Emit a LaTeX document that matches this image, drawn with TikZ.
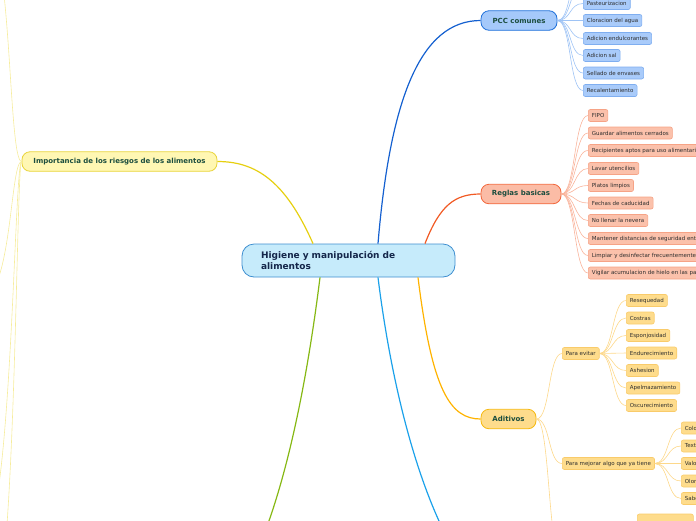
\documentclass[tikz,border=0pt]{standalone}
\usepackage{fontspec}
\setmainfont{DejaVu Sans}
\usetikzlibrary{calc}
\definecolor{mainfill}{HTML}{C6EBFB}
\definecolor{maindraw}{HTML}{3E8ED0}
\definecolor{maintext}{HTML}{14264A}
\definecolor{titletext}{HTML}{1B4D3E}
\definecolor{leaftext}{HTML}{2E2E2E}
\definecolor{pccfill}{HTML}{A5C9FA}
\definecolor{pccdraw}{HTML}{1E6FD9}
\definecolor{pccleaf}{HTML}{A9CBFA}
\definecolor{pccleafdraw}{HTML}{7FAEF0}
\definecolor{pccline}{HTML}{9EC3F5}
\definecolor{pccedge}{HTML}{1460D0}
\definecolor{regfill}{HTML}{FBBCA6}
\definecolor{regdraw}{HTML}{F2673C}
\definecolor{regleaf}{HTML}{FBC1AB}
\definecolor{regleafdraw}{HTML}{F6A386}
\definecolor{regline}{HTML}{F9B49C}
\definecolor{regedge}{HTML}{F15A24}
\definecolor{adifill}{HTML}{FEDC8C}
\definecolor{adidraw}{HTML}{F6B911}
\definecolor{adileafdraw}{HTML}{F9CB6A}
\definecolor{adiline}{HTML}{FDD88A}
\definecolor{adiedge}{HTML}{FFB300}
\definecolor{impfill}{HTML}{FFF7B3}
\definecolor{impdraw}{HTML}{E9D43B}
\definecolor{impline}{HTML}{F6EC9C}
\definecolor{impedge}{HTML}{E6CF10}
\definecolor{greenedge}{HTML}{86B814}
\definecolor{skyedge}{HTML}{1BA1EA}
\begin{document}
\begin{tikzpicture}[x=1pt,y=-1pt,
  branch/.style={draw, rounded corners=8pt, line width=0.8pt, minimum height=19.5pt,
    inner sep=0pt, font=\fontsize{7}{8}\selectfont\bfseries, text=titletext},
  leaf/.style={draw, rounded corners=2pt, anchor=west, minimum height=12pt,
    inner xsep=3.6pt, inner ysep=0pt, font=\fontsize{5.5}{6}\selectfont, text=leaftext, line width=0.6pt},
  pccleafs/.style={leaf, fill=pccleaf, draw=pccleafdraw},
  regleafs/.style={leaf, fill=regleaf, draw=regleafdraw},
  adileafs/.style={leaf, fill=adifill, draw=adileafdraw},
  mainedge/.style={line width=1.2pt},
  sub/.style={line width=0.6pt},
]
\useasboundingbox (0,0) rectangle (696,520);
\clip (0,0) rectangle (696,520);

% central node
\node[draw=maindraw, fill=mainfill, rounded corners=12pt, line width=0.8pt,
  minimum width=213pt, minimum height=33pt, inner sep=0pt, text width=175pt, align=left,
  font=\fontsize{9}{10.8}\selectfont\bfseries, text=maintext] (main) at (348.5,260.5)
  {Higiene y manipulación de\\alimentos};

% branches
\node[branch, fill=pccfill, draw=pccdraw, minimum width=76pt] (pcc) at (519,20.5) {PCC comunes};
\node[branch, fill=regfill, draw=regdraw, minimum width=80pt] (reg) at (521,194) {Reglas basicas};
\node[branch, fill=adifill, draw=adidraw, minimum width=55pt] (adi) at (508.5,419) {Aditivos};
\node[branch, fill=impfill, draw=impdraw, minimum width=195pt] (imp) at (119.5,161.5) {Importancia de los riesgos de los alimentos};

% PCC leaves
\node[pccleafs] (p1) at (583,3.5) {Pasteurizacion};
\node[pccleafs] (p2) at (583,20.5) {Cloracion del agua};
\node[pccleafs] (p3) at (583,38.5) {Adicion endulcorantes};
\node[pccleafs] (p4) at (583,55.5) {Adicion sal};
\node[pccleafs] (p5) at (583,73) {Sellado de envases};
\node[pccleafs] (p6) at (583,90.5) {Recalentamiento};
\coordinate (p0) at (583,-14);
\coordinate (pm) at (583,-31);

% Reglas leaves
\node[regleafs] (r1) at (588,115.5) {FIPO};
\node[regleafs] (r2) at (588,133) {Guardar alimentos cerrados};
\node[regleafs] (r3) at (588,150.5) {Recipientes aptos para uso alimentario};
\node[regleafs] (r4) at (588,168.5) {Lavar utencilios};
\node[regleafs] (r5) at (588,185.5) {Platos limpios};
\node[regleafs] (r6) at (588,203) {Fechas de caducidad};
\node[regleafs] (r7) at (588,220.5) {No llenar la nevera};
\node[regleafs] (r8) at (588,238.5) {Mantener distancias de seguridad entre};
\node[regleafs] (r9) at (588,255.5) {Limpiar y desinfectar frecuentemente};
\node[regleafs] (r10) at (588,273) {Vigilar acumulacion de hielo en las paredes};

% Aditivos
\node[adileafs] (ev) at (562,353.5) {Para evitar};
\node[adileafs] (me) at (562,463.5) {Para mejorar algo que ya tiene};
\coordinate (a3) at (562,560);
\node[adileafs] (e1) at (626,300.5) {Resequedad};
\node[adileafs] (e2) at (626,318) {Costras};
\node[adileafs] (e3) at (626,335.5) {Esponjosidad};
\node[adileafs] (e4) at (626,353) {Endurecimiento};
\node[adileafs] (e5) at (626,370.5) {Ashesion};
\node[adileafs] (e6) at (626,388) {Apelmazamiento};
\node[adileafs] (e7) at (626,405.5) {Oscurecimiento};
\node[adileafs] (m1) at (681,428) {Color};
\node[adileafs] (m2) at (681,446) {Textura};
\node[adileafs] (m3) at (681,463.5) {Valor};
\node[adileafs] (m4) at (681,481) {Olor};
\node[adileafs] (m5) at (681,498.5) {Sabor};
\node[adileafs, minimum width=56pt] (a3b) at (637,520) {};

% off-picture ends
\coordinate (gend) at (222,610);
\coordinate (send) at (495,600);
\coordinate (i1) at (-15,-70);
\coordinate (i2) at (-20,300);
\coordinate (i3) at (-20,545);
\coordinate (i4) at (-10,620);

% main edges
\draw[mainedge, pccedge] ($(main.north)+(29.5,0)$) .. controls (390,100) and (420,20.5) .. (pcc.west);
\draw[mainedge, regedge] ($(main.north)+(76.5,0)$) .. controls (440,205) and (455,194) .. (reg.west);
\draw[mainedge, adiedge] ($(main.south)+(69.5,0)$) .. controls (432,390) and (450,419) .. (adi.west);
\draw[mainedge, impedge] ($(main.north)+(-35.5,0)$) .. controls (285,180) and (255,161.5) .. (imp.east);
\draw[mainedge, greenedge] ($(main.south)+(-28.5,0)$) .. controls (301,430) and (268,560) .. (gend);
\draw[mainedge, skyedge] ($(main.south)+(29.5,0)$) .. controls (397,430) and (440,560) .. (send);

% sub edges
\foreach \n in {p0,pm,p1,p2,p3,p4,p5,p6}
  \draw[sub, pccline] (pcc.east) .. controls +(14,0) and +(-14,0) .. (\n.west);
\foreach \n in {r1,r2,r3,r4,r5,r6,r7,r8,r9,r10}
  \draw[sub, regline] (reg.east) .. controls +(14,0) and +(-14,0) .. (\n.west);
\foreach \n in {ev,me}
  \draw[sub, adiline] (adi.east) .. controls +(14,0) and +(-14,0) .. (\n.west);
\draw[sub, adiline] (adi.east) .. controls (550,419) and (548,560) .. (a3);
\foreach \n in {e1,e2,e3,e4,e5,e6,e7}
  \draw[sub, adiline] (ev.east) .. controls +(14,0) and +(-14,0) .. (\n.west);
\foreach \n in {m1,m2,m3,m4,m5}
  \draw[sub, adiline] (me.east) .. controls +(14,0) and +(-14,0) .. (\n.west);

% Importancia sub edges
\draw[sub, impline] (imp.west) .. controls (8,161.5) and (12,-70) .. (i1);
\draw[sub, impline] (imp.west) .. controls (10,161.5) and (12,300) .. (i2);
\draw[sub, impline] (imp.west) .. controls (14,161.5) and (12,545) .. (i3);
\draw[sub, impline] (imp.west) .. controls (16,161.5) and (16,620) .. (i4);
\end{tikzpicture}
\end{document}
